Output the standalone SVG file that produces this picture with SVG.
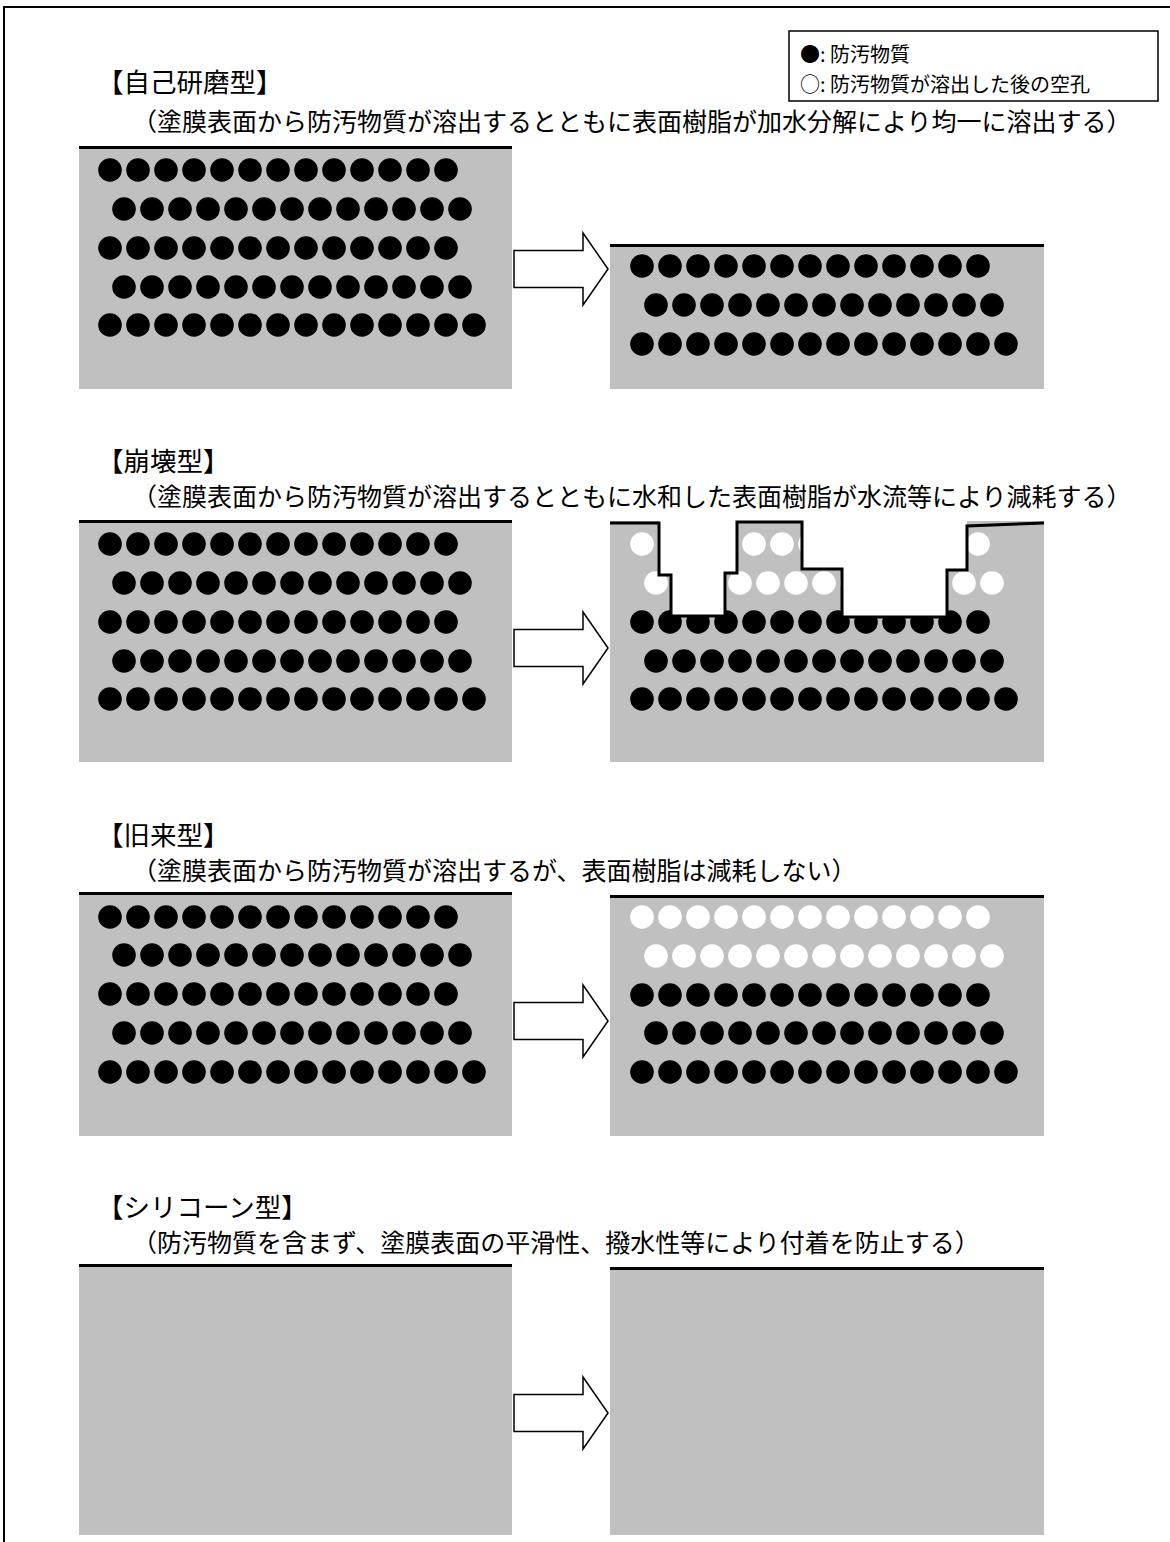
<svg xmlns="http://www.w3.org/2000/svg" xmlns:xlink="http://www.w3.org/1999/xlink" width="1170" height="1542" viewBox="0 0 1170 1542">
<style>
.title{font-family:"Noto Sans CJK JP","Liberation Serif",sans-serif;font-size:26.5px;fill:#000}
.sub{font-family:"Noto Sans CJK JP","Liberation Serif",sans-serif;font-size:25px;fill:#000}
.leg{font-family:"Noto Sans CJK JP","Liberation Serif",sans-serif;font-size:20px;fill:#000}
.panel{fill:#c0c0c0}
.surf{stroke:#000;stroke-width:3;fill:none}
.blk{fill:#000}
.wht{fill:#fff}
.arrow{fill:#fff;stroke:#000;stroke-width:1.5;stroke-linejoin:miter}
</style>
<defs>
<g id="r13">
<circle cx="0" cy="0" r="11.8"/><circle cx="28" cy="0" r="11.8"/><circle cx="56" cy="0" r="11.8"/><circle cx="84" cy="0" r="11.8"/><circle cx="112" cy="0" r="11.8"/><circle cx="140" cy="0" r="11.8"/><circle cx="168" cy="0" r="11.8"/><circle cx="196" cy="0" r="11.8"/><circle cx="224" cy="0" r="11.8"/><circle cx="252" cy="0" r="11.8"/><circle cx="280" cy="0" r="11.8"/><circle cx="308" cy="0" r="11.8"/><circle cx="336" cy="0" r="11.8"/>
</g>
<g id="r14">
<use xlink:href="#r13" href="#r13"/><circle cx="364" cy="0" r="11.8"/>
</g>
<path id="arr" d="M0,-18.5 H69 V-36 L94,0 L69,36 V18.5 H0 Z"/>
</defs>

<path d="M4,1542 V7 H1170" fill="none" stroke="#000" stroke-width="2"/>

<g id="legend">
<rect x="789" y="31" width="369" height="70" fill="#fff" stroke="#000" stroke-width="1.5"/>
<text class="leg" x="800" y="62">●: 防汚物質</text>
<text class="leg" x="800" y="92">○: 防汚物質が溶出した後の空孔</text>
</g>

<g id="self-polishing">
<text class="title" x="97" y="92">【自己研磨型】</text>
<text class="sub" x="132" y="131">（塗膜表面から防汚物質が溶出するとともに表面樹脂が加水分解により均一に溶出する）</text>
<g id="sp-before">
<rect class="panel" x="79" y="147" width="433" height="242"/>
<line class="surf" x1="79" y1="147.5" x2="512" y2="147.5"/>
<g class="blk">
<use href="#r13" x="110" y="170"/><use href="#r13" x="124" y="209"/><use href="#r13" x="110" y="248"/><use href="#r13" x="124" y="287"/><use href="#r14" x="110" y="325"/>
</g>
</g>
<g id="sp-after">
<rect class="panel" x="610" y="245" width="434" height="144"/>
<line class="surf" x1="610" y1="245.5" x2="1044" y2="245.5"/>
<g class="blk">
<use href="#r13" x="642" y="266"/><use href="#r13" x="656" y="305"/><use href="#r14" x="642" y="344"/>
</g>
</g>
</g>

<g id="collapse">
<text class="title" x="97" y="471">【崩壊型】</text>
<text class="sub" x="132" y="506">（塗膜表面から防汚物質が溶出するとともに水和した表面樹脂が水流等により減耗する）</text>
<g id="co-before">
<rect class="panel" x="79" y="521" width="433" height="241"/>
<line class="surf" x1="79" y1="521.5" x2="512" y2="521.5"/>
<g class="blk">
<use href="#r13" x="110" y="544"/><use href="#r13" x="124" y="583"/><use href="#r13" x="110" y="622"/><use href="#r13" x="124" y="661"/><use href="#r14" x="110" y="699"/>
</g>
</g>
<g id="co-after">
<rect class="panel" x="610" y="521" width="434" height="241"/>
<g class="wht"><use href="#r13" x="642" y="544"/><use href="#r13" x="656" y="583"/></g>
<g class="blk"><use href="#r13" x="642" y="622"/><use href="#r13" x="656" y="661"/><use href="#r14" x="642" y="699"/></g>
<polygon fill="#fff" points="659,519 659,575 671,575 671,616 725,616 725,573 737,573 737,519"/>
<polygon fill="#fff" points="802,519 802,569 842,569 842,617 947,617 947,570 967,570 967,519"/>
<polyline class="surf" points="610,523 659,523 659,575 671,575 671,616 725,616 725,573 737,573 737,522 802,522 802,569 842,569 842,617 947,617 947,570 967,570 967,526 1044,523"/>
</g>
</g>

<g id="conventional">
<text class="title" x="97" y="845">【旧来型】</text>
<text class="sub" x="132" y="880">（塗膜表面から防汚物質が溶出するが、表面樹脂は減耗しない）</text>
<g id="cv-before">
<rect class="panel" x="79" y="893" width="433" height="243"/>
<line class="surf" x1="79" y1="893.5" x2="512" y2="893.5"/>
<g class="blk">
<use href="#r13" x="110" y="917"/><use href="#r13" x="124" y="955"/><use href="#r13" x="110" y="994"/><use href="#r13" x="124" y="1033"/><use href="#r14" x="110" y="1072"/>
</g>
</g>
<g id="cv-after">
<rect class="panel" x="610" y="896" width="434" height="240"/>
<line class="surf" x1="610" y1="896.5" x2="1044" y2="896.5"/>
<g class="wht"><use href="#r13" x="642" y="917"/><use href="#r13" x="656" y="956"/></g>
<g class="blk"><use href="#r13" x="642" y="995"/><use href="#r13" x="656" y="1033"/><use href="#r14" x="642" y="1072"/></g>
</g>
</g>

<g id="silicone">
<text class="title" x="97" y="1217">【シリコーン型】</text>
<text class="sub" x="132" y="1252">（防汚物質を含まず、塗膜表面の平滑性、撥水性等により付着を防止する）</text>
<g id="si-before">
<rect class="panel" x="79" y="1265" width="433" height="270"/>
<line class="surf" x1="79" y1="1265.5" x2="512" y2="1265.5"/>
</g>
<g id="si-after">
<rect class="panel" x="610" y="1268" width="434" height="267"/>
<line class="surf" x1="610" y1="1268.5" x2="1044" y2="1268.5"/>
</g>
</g>

<g id="connectors">
<use class="arrow" href="#arr" x="514" y="269"/>
<use class="arrow" href="#arr" x="514" y="648"/>
<use class="arrow" href="#arr" x="514" y="1021"/>
<use class="arrow" href="#arr" x="514" y="1413"/>
</g>
</svg>
